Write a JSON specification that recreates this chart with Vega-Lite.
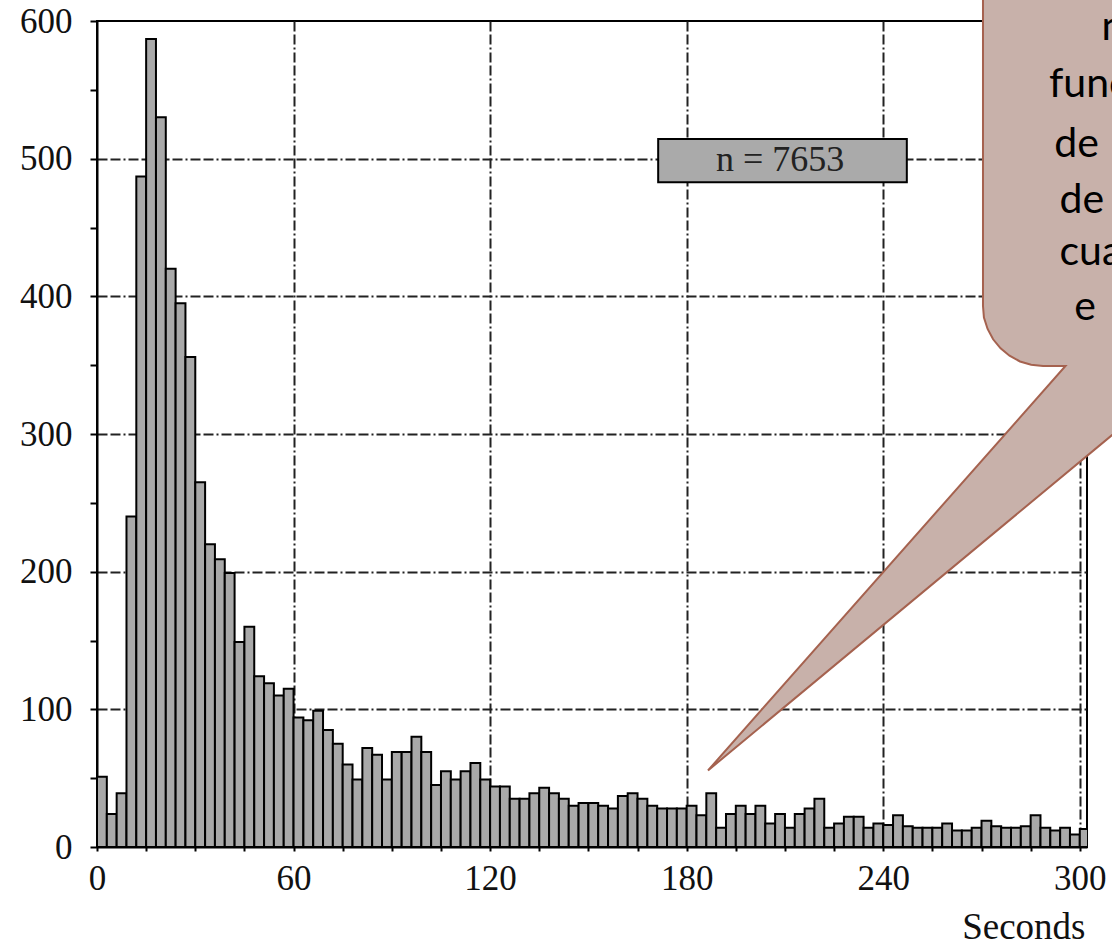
{
  "$schema": "https://vega.github.io/schema/vega-lite/v6.json",
  "width": 990,
  "height": 826,
  "autosize": {"type": "none"},
  "padding": {"left": 97, "top": 21, "right": 25, "bottom": 99},
  "background": "white",
  "config": {
    "view": {"stroke": "#000", "strokeWidth": 2},
    "axis": {
      "labelFont": "Liberation Serif",
      "labelFontSize": 35,
      "labelColor": "#111",
      "labelFlush": false,
      "labelOverlap": false,
      "tickColor": "#000",
      "tickWidth": 2,
      "domainColor": "#000",
      "domainWidth": 2,
      "gridColor": "#222",
      "gridWidth": 2,
      "gridDash": [10, 3, 10, 3, 2, 3],
      "zindex": 0
    }
  },
  "datasets": {
    "bins": [
      {"start": 0, "end": 3, "count": 51}, {"start": 3, "end": 6, "count": 24}, {"start": 6, "end": 9, "count": 39},
      {"start": 9, "end": 12, "count": 240}, {"start": 12, "end": 15, "count": 487}, {"start": 15, "end": 18, "count": 587},
      {"start": 18, "end": 21, "count": 530}, {"start": 21, "end": 24, "count": 420}, {"start": 24, "end": 27, "count": 395},
      {"start": 27, "end": 30, "count": 356}, {"start": 30, "end": 33, "count": 265}, {"start": 33, "end": 36, "count": 220},
      {"start": 36, "end": 39, "count": 209}, {"start": 39, "end": 42, "count": 199}, {"start": 42, "end": 45, "count": 149},
      {"start": 45, "end": 48, "count": 160}, {"start": 48, "end": 51, "count": 124}, {"start": 51, "end": 54, "count": 119},
      {"start": 54, "end": 57, "count": 110}, {"start": 57, "end": 60, "count": 115}, {"start": 60, "end": 63, "count": 94},
      {"start": 63, "end": 66, "count": 92}, {"start": 66, "end": 69, "count": 99}, {"start": 69, "end": 72, "count": 85},
      {"start": 72, "end": 75, "count": 75}, {"start": 75, "end": 78, "count": 60}, {"start": 78, "end": 81, "count": 49},
      {"start": 81, "end": 84, "count": 72}, {"start": 84, "end": 87, "count": 67}, {"start": 87, "end": 90, "count": 49},
      {"start": 90, "end": 93, "count": 69}, {"start": 93, "end": 96, "count": 69}, {"start": 96, "end": 99, "count": 80},
      {"start": 99, "end": 102, "count": 69}, {"start": 102, "end": 105, "count": 45}, {"start": 105, "end": 108, "count": 55},
      {"start": 108, "end": 111, "count": 49}, {"start": 111, "end": 114, "count": 55}, {"start": 114, "end": 117, "count": 61},
      {"start": 117, "end": 120, "count": 49}, {"start": 120, "end": 123, "count": 44}, {"start": 123, "end": 126, "count": 44},
      {"start": 126, "end": 129, "count": 35}, {"start": 129, "end": 132, "count": 35}, {"start": 132, "end": 135, "count": 39},
      {"start": 135, "end": 138, "count": 43}, {"start": 138, "end": 141, "count": 39}, {"start": 141, "end": 144, "count": 35},
      {"start": 144, "end": 147, "count": 30}, {"start": 147, "end": 150, "count": 32}, {"start": 150, "end": 153, "count": 32},
      {"start": 153, "end": 156, "count": 30}, {"start": 156, "end": 159, "count": 28}, {"start": 159, "end": 162, "count": 37},
      {"start": 162, "end": 165, "count": 39}, {"start": 165, "end": 168, "count": 35}, {"start": 168, "end": 171, "count": 30},
      {"start": 171, "end": 174, "count": 28}, {"start": 174, "end": 177, "count": 28}, {"start": 177, "end": 180, "count": 28},
      {"start": 180, "end": 183, "count": 30}, {"start": 183, "end": 186, "count": 23}, {"start": 186, "end": 189, "count": 39},
      {"start": 189, "end": 192, "count": 14}, {"start": 192, "end": 195, "count": 24}, {"start": 195, "end": 198, "count": 30},
      {"start": 198, "end": 201, "count": 24}, {"start": 201, "end": 204, "count": 30}, {"start": 204, "end": 207, "count": 17},
      {"start": 207, "end": 210, "count": 24}, {"start": 210, "end": 213, "count": 14}, {"start": 213, "end": 216, "count": 24},
      {"start": 216, "end": 219, "count": 28}, {"start": 219, "end": 222, "count": 35}, {"start": 222, "end": 225, "count": 14},
      {"start": 225, "end": 228, "count": 17}, {"start": 228, "end": 231, "count": 22}, {"start": 231, "end": 234, "count": 22},
      {"start": 234, "end": 237, "count": 14}, {"start": 237, "end": 240, "count": 17}, {"start": 240, "end": 243, "count": 16},
      {"start": 243, "end": 246, "count": 23}, {"start": 246, "end": 249, "count": 15}, {"start": 249, "end": 252, "count": 14},
      {"start": 252, "end": 255, "count": 14}, {"start": 255, "end": 258, "count": 14}, {"start": 258, "end": 261, "count": 17},
      {"start": 261, "end": 264, "count": 12}, {"start": 264, "end": 267, "count": 12}, {"start": 267, "end": 270, "count": 14},
      {"start": 270, "end": 273, "count": 19}, {"start": 273, "end": 276, "count": 15}, {"start": 276, "end": 279, "count": 14},
      {"start": 279, "end": 282, "count": 14}, {"start": 282, "end": 285, "count": 15}, {"start": 285, "end": 288, "count": 23},
      {"start": 288, "end": 291, "count": 14}, {"start": 291, "end": 294, "count": 12}, {"start": 294, "end": 297, "count": 14},
      {"start": 297, "end": 300, "count": 9}, {"start": 300, "end": 303, "count": 13}
    ],
    "nbox": [
      {"x0": 171.3, "x1": 247.2, "y0": 482.9, "y1": 514.3, "xm": 208.5, "ym": 499, "label": "n = 7653"}
    ],
    "bubble": [
      {"i": 0, "s": 270.45, "c": 629.8},
      {"i": 1, "s": 270.45, "c": 393.0},
      {"i": 2, "s": 270.74, "c": 384.6},
      {"i": 3, "s": 271.86, "c": 376.3},
      {"i": 4, "s": 273.54, "c": 368.8},
      {"i": 5, "s": 275.82, "c": 362.2},
      {"i": 6, "s": 278.55, "c": 356.9},
      {"i": 7, "s": 281.75, "c": 352.7},
      {"i": 8, "s": 285.15, "c": 350.3},
      {"i": 9, "s": 288.77, "c": 349.4},
      {"i": 10, "s": 295.63, "c": 349.4},
      {"i": 11, "s": 186.51, "c": 55.6},
      {"i": 12, "s": 318.38, "c": 316.1},
      {"i": 13, "s": 318.38, "c": 629.8},
      {"i": 14, "s": 270.45, "c": 629.8}
    ],
    "bubbleText": [
      {"s": 306.6, "c": 586.2, "t": "n"},
      {"s": 290.6, "c": 545.0, "t": "función"},
      {"s": 292.2, "c": 501.4, "t": "de"},
      {"s": 293.8, "c": 460.3, "t": "de"},
      {"s": 293.8, "c": 422.8, "t": "cuando"},
      {"s": 298.3, "c": 382.8, "t": "e"}
    ]
  },
  "layer": [
    {
      "data": {"name": "bins"},
      "mark": {"type": "bar", "fill": "#a9a9a9", "stroke": "#000", "strokeWidth": 2, "clip": true},
      "encoding": {
        "x": {
          "field": "start",
          "type": "quantitative",
          "scale": {"domain": [0, 302.2], "nice": false, "zero": false},
          "axis": {
            "title": "Seconds",
            "values": [0, 15, 30, 45, 60, 75, 90, 105, 120, 135, 150, 165, 180, 195, 210, 225, 240, 255, 270, 285, 300],
            "labelExpr": "datum.value % 60 === 0 ? datum.label : ''",
            "labelPadding": 10,
            "tickSize": 4,
            "grid": true,
            "gridOpacity": {"condition": {"test": "datum.value % 60 === 0 && datum.value > 0", "value": 1}, "value": 0},
            "titleFont": "Liberation Serif",
            "titleFontSize": 37,
            "titleFontWeight": "normal",
            "titleColor": "#111",
            "titleAnchor": "end",
            "titleAlign": "right",
            "titleBaseline": "alphabetic",
            "titleX": 988,
            "titleY": 91
          }
        },
        "x2": {"field": "end"},
        "y": {
          "field": "count",
          "type": "quantitative",
          "scale": {"domain": [0, 600], "nice": false},
          "axis": {
            "title": null,
            "values": [0, 50, 100, 150, 200, 250, 300, 350, 400, 450, 500, 550, 600],
            "labelExpr": "datum.value % 100 === 0 ? datum.label : ''",
            "labelPadding": 18,
            "tickSize": 7,
            "grid": true,
            "gridOpacity": {"condition": {"test": "datum.value % 100 === 0 && datum.value > 0 && datum.value < 600", "value": 1}, "value": 0}
          }
        },
        "y2": {"datum": 0}
      }
    },
    {
      "data": {"name": "nbox"},
      "mark": {"type": "rect", "fill": "#aaaaaa", "stroke": "#000", "strokeWidth": 2},
      "encoding": {
        "x": {"field": "x0", "type": "quantitative"},
        "x2": {"field": "x1"},
        "y": {"field": "y0", "type": "quantitative"},
        "y2": {"field": "y1"}
      }
    },
    {
      "data": {"name": "nbox"},
      "mark": {"type": "text", "font": "Liberation Serif", "fontSize": 36, "color": "#222", "align": "center", "baseline": "middle"},
      "encoding": {
        "x": {"field": "xm", "type": "quantitative"},
        "y": {"field": "ym", "type": "quantitative"},
        "text": {"field": "label"}
      }
    },
    {
      "data": {"name": "bubble"},
      "mark": {"type": "line", "fill": "#c8b1aa", "stroke": "#a5624f", "strokeWidth": 2, "strokeJoin": "miter"},
      "encoding": {
        "x": {"field": "s", "type": "quantitative"},
        "y": {"field": "c", "type": "quantitative"},
        "order": {"field": "i", "type": "quantitative"}
      }
    },
    {
      "data": {"name": "bubbleText"},
      "mark": {"type": "text", "font": "Lato", "fontSize": 41, "color": "#000", "align": "left", "baseline": "alphabetic"},
      "encoding": {
        "x": {"field": "s", "type": "quantitative"},
        "y": {"field": "c", "type": "quantitative"},
        "text": {"field": "t"}
      }
    }
  ]
}
